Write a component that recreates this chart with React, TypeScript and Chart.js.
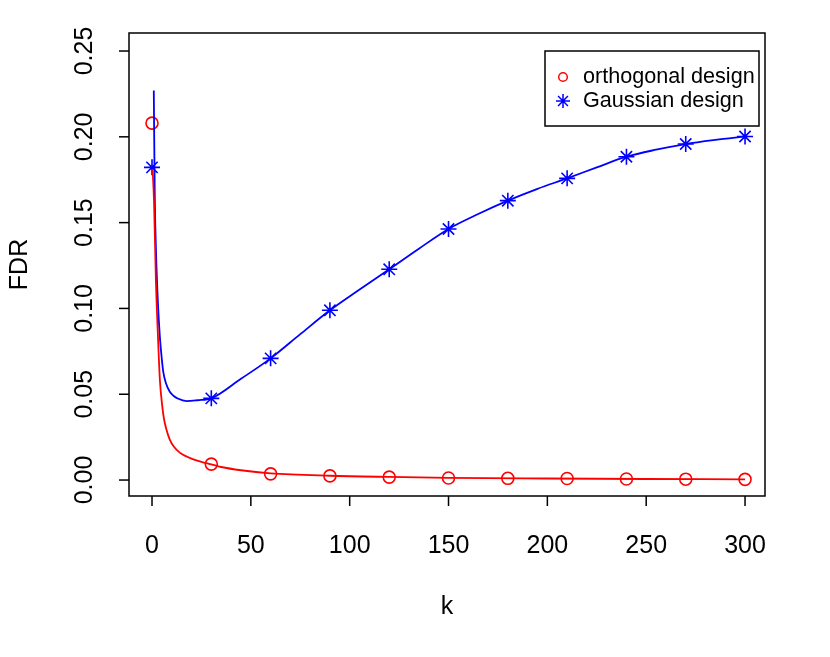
import React, { useEffect, useRef } from "react";
import { Chart, registerables } from "chart.js";

Chart.register(...registerables);

// ---- data ----
const kPoints = [0, 30, 60, 90, 120, 150, 180, 210, 240, 270, 300];
const orthoPoints = [0.208, 0.0093, 0.0036, 0.0024, 0.0017, 0.0012, 0.001, 0.0009, 0.0006, 0.0005, 0.0004];
const gaussPoints = [0.1822, 0.0476, 0.0709, 0.0989, 0.1228, 0.1463, 0.1628, 0.1758, 0.1884, 0.1958, 0.2002];

const kOrthoCurve = [0.3, 1, 2, 3, 4, 5, 6, 7.4, 9, 11, 14, 17.5, 22, 28, 35, 45, 60, 90, 120, 150, 200, 250, 300];
const orthoCurve = [0.181, 0.163, 0.115, 0.084, 0.058, 0.045, 0.036, 0.029, 0.0235, 0.0195, 0.016, 0.0137, 0.0116, 0.0097, 0.0076, 0.0057, 0.0039, 0.0025, 0.0018, 0.0013, 0.0009, 0.0006, 0.0004];

const kGaussCurve = [0.9, 1.4, 2, 3, 4, 5, 5.7, 7, 9, 11, 13, 17.5, 23, 30, 45, 60, 75, 90, 105, 120, 135, 150, 165, 180, 195, 210, 225, 240, 255, 270, 285, 300];
const gaussCurve = [0.227, 0.165, 0.134, 0.103, 0.083, 0.07, 0.063, 0.0565, 0.0515, 0.049, 0.0475, 0.046, 0.0465, 0.0476, 0.059, 0.0709, 0.085, 0.0989, 0.111, 0.1228, 0.1348, 0.1463, 0.155, 0.1628, 0.1697, 0.1758, 0.1822, 0.1884, 0.1925, 0.1958, 0.1982, 0.2002];

const xTicks = [0, 50, 100, 150, 200, 250, 300];
const yTicks = [0, 0.05, 0.1, 0.15, 0.2, 0.25];
const yTickLabels = ["0.00", "0.05", "0.10", "0.15", "0.20", "0.25"];
const legendLabels = ["orthogonal design", "Gaussian design"];
const xTitle = "k";
const yTitle = "FDR";

const RED = "#FF0000";
const BLUE = "#0000FF";
const FONT = "Liberation Sans, Arial, Helvetica, sans-serif";

const pairs = (xs: number[], ys: number[]) => xs.map((x, i) => ({ x, y: ys[i] }));

const rPlotPlugin = {
  id: "rPlot",
  afterDraw(chart: any) {
    const { ctx, chartArea, scales } = chart;
    const xs = scales.x;
    const ys = scales.y;
    ctx.save();
    ctx.strokeStyle = "#000";
    ctx.fillStyle = "#000";
    ctx.lineWidth = 1.5;
    // box
    ctx.strokeRect(chartArea.left, chartArea.top, chartArea.right - chartArea.left, chartArea.bottom - chartArea.top);
    const tick = 10;
    ctx.font = `25px ${FONT}`;
    // x axis
    ctx.textAlign = "center";
    ctx.textBaseline = "middle";
    xTicks.forEach((t) => {
      const px = xs.getPixelForValue(t);
      ctx.beginPath();
      ctx.moveTo(px, chartArea.bottom);
      ctx.lineTo(px, chartArea.bottom + tick);
      ctx.stroke();
      ctx.fillText(String(t), px, 546);
    });
    // y axis
    yTicks.forEach((t, i) => {
      const py = ys.getPixelForValue(t);
      ctx.beginPath();
      ctx.moveTo(chartArea.left, py);
      ctx.lineTo(chartArea.left - tick, py);
      ctx.stroke();
      ctx.save();
      ctx.translate(85, py);
      ctx.rotate(-Math.PI / 2);
      ctx.fillText(yTickLabels[i], 0, 0);
      ctx.restore();
    });
    // titles
    ctx.fillText(xTitle, (chartArea.left + chartArea.right) / 2, 607);
    ctx.save();
    ctx.translate(20, (chartArea.top + chartArea.bottom) / 2);
    ctx.rotate(-Math.PI / 2);
    ctx.fillText(yTitle, 0, 0);
    ctx.restore();

    // legend
    ctx.fillStyle = "#fff";
    ctx.fillRect(545, 51, 214, 75);
    ctx.strokeStyle = "#000";
    ctx.strokeRect(545, 51, 214, 75);
    // circle marker
    ctx.strokeStyle = RED;
    ctx.beginPath();
    ctx.arc(563, 77, 4.3, 0, Math.PI * 2);
    ctx.stroke();
    // asterisk marker
    ctx.strokeStyle = BLUE;
    const r = 7;
    const cx = 563, cy = 101;
    ctx.beginPath();
    for (let a = 0; a < 4; a++) {
      const ang = (a * Math.PI) / 4;
      ctx.moveTo(cx - Math.cos(ang) * r, cy - Math.sin(ang) * r);
      ctx.lineTo(cx + Math.cos(ang) * r, cy + Math.sin(ang) * r);
    }
    ctx.stroke();
    ctx.fillStyle = "#000";
    ctx.font = `21.6px ${FONT}`;
    ctx.textAlign = "left";
    ctx.fillText(legendLabels[0], 583, 77);
    ctx.fillText(legendLabels[1], 583, 101.5);
    ctx.restore();
  },
};

export default function App() {
  const ref = useRef<HTMLCanvasElement | null>(null);
  useEffect(() => {
    if (!ref.current) return;
    const chart = new Chart(ref.current, {
      type: "scatter",
      data: {
        datasets: [
          {
            label: "orthogonal curve",
            data: pairs(kOrthoCurve, orthoCurve),
            showLine: true,
            borderColor: RED,
            borderWidth: 1.8,
            pointRadius: 0,
            cubicInterpolationMode: "monotone",
          },
          {
            label: "Gaussian curve",
            data: pairs(kGaussCurve, gaussCurve),
            showLine: true,
            borderColor: BLUE,
            borderWidth: 1.8,
            pointRadius: 0,
            cubicInterpolationMode: "monotone",
          },
          {
            label: legendLabels[0],
            data: pairs(kPoints, orthoPoints),
            showLine: false,
            pointStyle: "circle",
            pointRadius: 6,
            pointBorderWidth: 1.6,
            pointBorderColor: RED,
            pointBackgroundColor: "rgba(0,0,0,0)",
          },
          {
            label: legendLabels[1],
            data: pairs(kPoints, gaussPoints),
            showLine: false,
            pointStyle: "star",
            pointRadius: 8,
            pointBorderWidth: 1.6,
            pointBorderColor: BLUE,
            pointBackgroundColor: BLUE,
          },
        ],
      },
      options: {
        animation: false,
        responsive: false,
        devicePixelRatio: 1,
        layout: { padding: { left: 129, right: 65, top: 33, bottom: 161 } },
        plugins: { legend: { display: false }, tooltip: { enabled: false }, title: { display: false } },
        scales: {
          x: { type: "linear", min: -11.64, max: 310.1, display: false },
          y: { type: "linear", min: -0.0093, max: 0.2605, display: false },
        },
      },
      plugins: [rPlotPlugin],
    });
    return () => chart.destroy();
  }, []);
  return (
    <div style={{ position: "absolute", left: 0, top: 0, width: 830, height: 657, background: "#fff" }}>
      <canvas ref={ref} width={830} height={657} />
    </div>
  );
}
